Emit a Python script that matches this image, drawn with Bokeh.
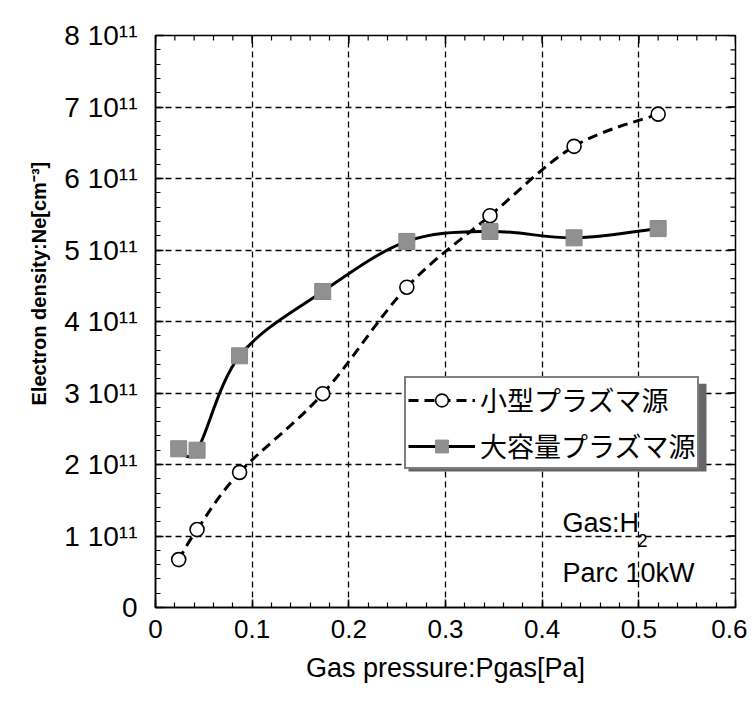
import numpy as np
from bokeh.plotting import figure
from bokeh.models import (Range1d, FixedTicker, Label, Legend, LegendItem, Title,
                          CustomJSTickFormatter, BoxAnnotation)
from bokeh.embed import file_html
from bokeh.resources import INLINE

# ---------------- data ----------------
pressure = [0.024, 0.043, 0.087, 0.173, 0.26, 0.346, 0.433, 0.52]
ne_small = [0.67e11, 1.09e11, 1.89e11, 2.99e11, 4.48e11, 5.48e11, 6.45e11, 6.90e11]
ne_large = [2.22e11, 2.20e11, 3.52e11, 4.42e11, 5.12e11, 5.26e11, 5.17e11, 5.30e11]
series_names = ["小型プラズマ源", "大容量プラズマ源"]

x_ticks = [0.0, 0.1, 0.2, 0.3, 0.4, 0.5, 0.6]
x_minor = [i * 0.02 for i in range(31)]
y_ticks = [0, 1e11, 2e11, 3e11, 4e11, 5e11, 6e11, 7e11, 8e11]
y_minor = [i * 2e10 for i in range(41)]
y_tick_labels = ["0", "1 10¹¹", "2 10¹¹", "3 10¹¹", "4 10¹¹", "5 10¹¹", "6 10¹¹", "7 10¹¹", "8 10¹¹"]

x_title = "Gas pressure:Pgas[Pa]"
y_title = "Electron density:Ne[cm⁻³]"
note_gas = "Gas:H"
note_gas_sub = "2"
note_power = "Parc 10kW"

LATIN = "Liberation Sans"
LEGEND_FONT = "Liberation Sans, Noto Sans CJK JP"
X0, X1 = 0.0, 0.6
Y0, Y1 = 0.0, 8e11


def smooth(xs, ys):
    xs = np.asarray(xs, float)
    ys = np.asarray(ys, float)
    n = len(xs)
    px = np.concatenate([[xs[0]], xs, [xs[-1]]])
    py = np.concatenate([[ys[0]], ys, [ys[-1]]])
    return dict(
        x0=xs[:-1], y0=ys[:-1], x1=xs[1:], y1=ys[1:],
        cx0=xs[:-1] + (px[2:n + 1] - px[0:n - 1]) / 6.0,
        cy0=ys[:-1] + (py[2:n + 1] - py[0:n - 1]) / 6.0,
        cx1=xs[1:] - (px[3:n + 2] - px[1:n]) / 6.0,
        cy1=ys[1:] - (py[3:n + 2] - py[1:n]) / 6.0,
    )


p = figure(width=747, height=700, x_range=Range1d(X0, X1), y_range=Range1d(Y0, Y1),
           output_backend="svg", toolbar_location=None,
           min_border_left=155, min_border_right=12, min_border_top=35, min_border_bottom=93)
p.background_fill_color = "white"
p.border_fill_color = "white"
p.outline_line_color = "black"
p.outline_line_width = 1.5

xt = FixedTicker(ticks=x_ticks, minor_ticks=x_minor)
yt = FixedTicker(ticks=y_ticks, minor_ticks=y_minor)


def style_axis(ax, ticker):
    ax.ticker = ticker
    ax.axis_line_color = "black"
    ax.axis_line_width = 1.5
    ax.major_tick_in = 8
    ax.major_tick_out = 0
    ax.minor_tick_in = 5
    ax.minor_tick_out = 0
    ax.major_tick_line_color = "black"
    ax.major_tick_line_width = 1.5
    ax.minor_tick_line_color = "black"
    ax.minor_tick_line_width = 1.2


xa = p.xaxis[0]
style_axis(xa, xt)
xa.formatter = CustomJSTickFormatter(code="return Math.abs(tick) < 1e-9 ? '0' : tick.toFixed(1);")
xa.major_label_text_font = LATIN
xa.major_label_text_font_size = "26px"
xa.major_label_text_color = "black"
xa.major_label_standoff = 12
xa.axis_label = x_title
xa.axis_label_text_font = LATIN
xa.axis_label_text_font_size = "27px"
xa.axis_label_text_font_style = "normal"
xa.axis_label_text_color = "black"
xa.axis_label_standoff = 12

ya = p.yaxis[0]
style_axis(ya, yt)
ya.major_label_overrides = {int(v): t for v, t in zip(y_ticks, y_tick_labels)}
ya.major_label_text_font = LATIN
ya.major_label_text_font_size = "28px"
ya.major_label_text_color = "black"
ya.major_label_standoff = 18

# y title as a side title, starting above the frame bottom like the reference
p.add_layout(Title(text=y_title, align="left", offset=202, standoff=24,
                   text_font=LATIN, text_font_size="20px", text_font_style="bold",
                   text_color="black"), "left")

# mirrored inward ticks on the top and right edges
p.ray(x=x_ticks, y=[Y1] * len(x_ticks), length=8, length_units="screen", angle=-90,
      angle_units="deg", line_color="black", line_width=1.5)
p.ray(x=x_minor, y=[Y1] * len(x_minor), length=5, length_units="screen", angle=-90,
      angle_units="deg", line_color="black", line_width=1.2)
p.ray(x=[X1] * len(y_ticks), y=y_ticks, length=8, length_units="screen", angle=180,
      angle_units="deg", line_color="black", line_width=1.5)
p.ray(x=[X1] * len(y_minor), y=y_minor, length=5, length_units="screen", angle=180,
      angle_units="deg", line_color="black", line_width=1.2)

for g in (p.xgrid[0], p.ygrid[0]):
    g.grid_line_color = "black"
    g.grid_line_width = 1.3
    g.grid_line_dash = "6 4"

# curves
r_small = p.bezier(**smooth(pressure, ne_small), line_color="black", line_width=3, line_dash="10 6")
r_large = p.bezier(**smooth(pressure, ne_large), line_color="black", line_width=3)
m_small = p.scatter(pressure, ne_small, marker="circle", size=14, fill_color="white",
                    line_color="black", line_width=1.6)
m_large = p.scatter(pressure, ne_large, marker="square", size=16, fill_color="#909090",
                    line_color="#888888", line_width=1)

# notes
p.add_layout(Label(x=0.421, y=1.175e11, text=note_gas, text_align="left", text_baseline="alphabetic",
                   text_font=LATIN, text_font_size="27px", text_color="black"))
p.add_layout(Label(x=0.4985, y=0.937e11, text=note_gas_sub, text_align="left", text_baseline="alphabetic",
                   text_font=LATIN, text_font_size="18px", text_color="black"))
p.add_layout(Label(x=0.421, y=0.476e11, text=note_power, text_align="left", text_baseline="alphabetic",
                   text_font=LATIN, text_font_size="27px", text_color="black"))

# legend shadow
p.add_layout(BoxAnnotation(left=0.2617, right=0.570, top=3.13e11, bottom=1.902e11,
                           fill_color="#666666", fill_alpha=1.0, line_color=None))

legend = Legend(items=[LegendItem(label=series_names[0], renderers=[r_small, m_small]),
                       LegendItem(label=series_names[1], renderers=[r_large, m_large])],
                location=(249, 138), orientation="vertical",
                padding=2, spacing=7, margin=0, label_height=32, glyph_height=32,
                glyph_width=67, label_standoff=5,
                label_text_font=LEGEND_FONT, label_text_font_size="27px", label_text_color="black",
                border_line_color="black", border_line_width=2,
                background_fill_color="white", background_fill_alpha=1.0)
p.add_layout(legend, "center")

open("out.html", "w").write(file_html(p, INLINE))
